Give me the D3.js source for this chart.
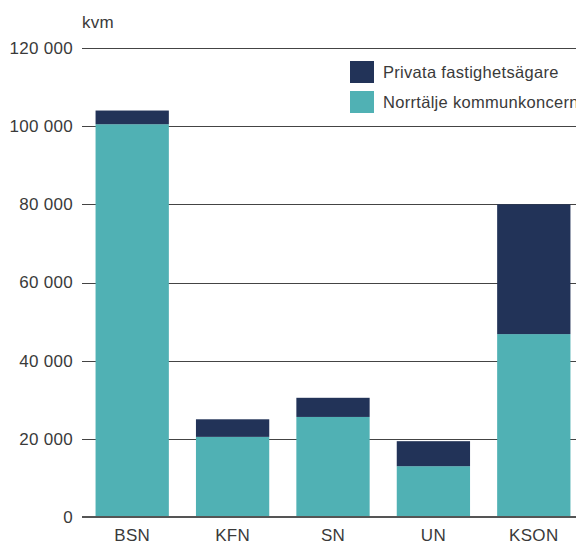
<!DOCTYPE html>
<html>
<head>
<meta charset="utf-8">
<script src="https://cdn.jsdelivr.net/npm/d3@7"></script>
<style>
  body { margin: 0; background: #fff; }
  svg text { font-family: "Liberation Sans", Arial, sans-serif; fill: #3a3a3a; letter-spacing: 0.3px; }
</style>
</head>
<body>
<div id="chart"></div>
<script>
let width = 576;
let height = 542;

// data
const categories = ["BSN", "KFN", "SN", "UN", "KSON"];
const kommun = [100500, 20500, 25600, 13000, 46800];
const privata = [3500, 4500, 4900, 6400, 33200];
const yTicks = [0, 20000, 40000, 60000, 80000, 100000, 120000];
const seriesNames = ["Privata fastighetsägare", "Norrtälje kommunkoncern"];
const colors = ["#223358", "#50b1b4"];

let rows = categories.map((c, i) => ({ cat: c, kommun: kommun[i], privata: privata[i] }));
let stack = d3.stack().keys(["kommun", "privata"])(rows);

let x = d3.scaleBand()
  .domain(categories)
  .range([82, 584])
  .paddingInner(0.27)
  .paddingOuter(0.135);

let y = d3.scaleLinear()
  .domain([0, 120000])
  .range([517, 48]);

let format = v => d3.format(",d")(v).replace(/,/g, " ");

let svg = d3.select("#chart").append("svg")
  .attr("width", width)
  .attr("height", height);

// grid
svg.append("g")
  .selectAll("line")
  .data(yTicks.filter(d => d > 0))
  .join("line")
  .attr("x1", 82).attr("x2", width)
  .attr("y1", d => Math.round(y(d)) + 0.5)
  .attr("y2", d => Math.round(y(d)) + 0.5)
  .attr("stroke", "#444")
  .attr("stroke-width", 1);

svg.append("g")
  .selectAll("text")
  .data(yTicks)
  .join("text")
  .attr("x", 73)
  .attr("y", d => y(d))
  .attr("dy", "0.35em")
  .attr("text-anchor", "end")
  .style("font-size", "17px")
  .text(d => format(d));

svg.append("text")
  .attr("x", 82)
  .attr("y", 28)
  .style("font-size", "17px")
  .text("kvm");

// bars
let fillFor = { kommun: colors[1], privata: colors[0] };
svg.append("g")
  .selectAll("g")
  .data(stack)
  .join("g")
  .attr("fill", d => fillFor[d.key])
  .selectAll("rect")
  .data(d => d)
  .join("rect")
  .attr("x", d => x(d.data.cat))
  .attr("width", x.bandwidth())
  .attr("y", d => y(d[1]))
  .attr("height", d => y(d[0]) - y(d[1]));

// zero line
svg.append("line")
  .attr("x1", 82).attr("x2", width)
  .attr("y1", y(0)).attr("y2", y(0))
  .attr("stroke", "#555")
  .attr("stroke-width", 2);

// x labels
svg.append("g")
  .selectAll("text")
  .data(categories)
  .join("text")
  .attr("x", d => x(d) + x.bandwidth() / 2)
  .attr("y", 541)
  .attr("text-anchor", "middle")
  .style("font-size", "17px")
  .text(d => d);

// legend
let legend = svg.append("g")
  .selectAll("g")
  .data(seriesNames)
  .join("g")
  .attr("transform", (d, i) => `translate(350, ${61 + i * 30})`);

legend.append("rect")
  .attr("width", 24)
  .attr("height", 22)
  .attr("fill", (d, i) => colors[i]);

legend.append("text")
  .attr("x", 33)
  .attr("y", 11)
  .attr("dy", "0.35em")
  .style("font-size", "16.5px")
  .text(d => d);
</script>
</body>
</html>
